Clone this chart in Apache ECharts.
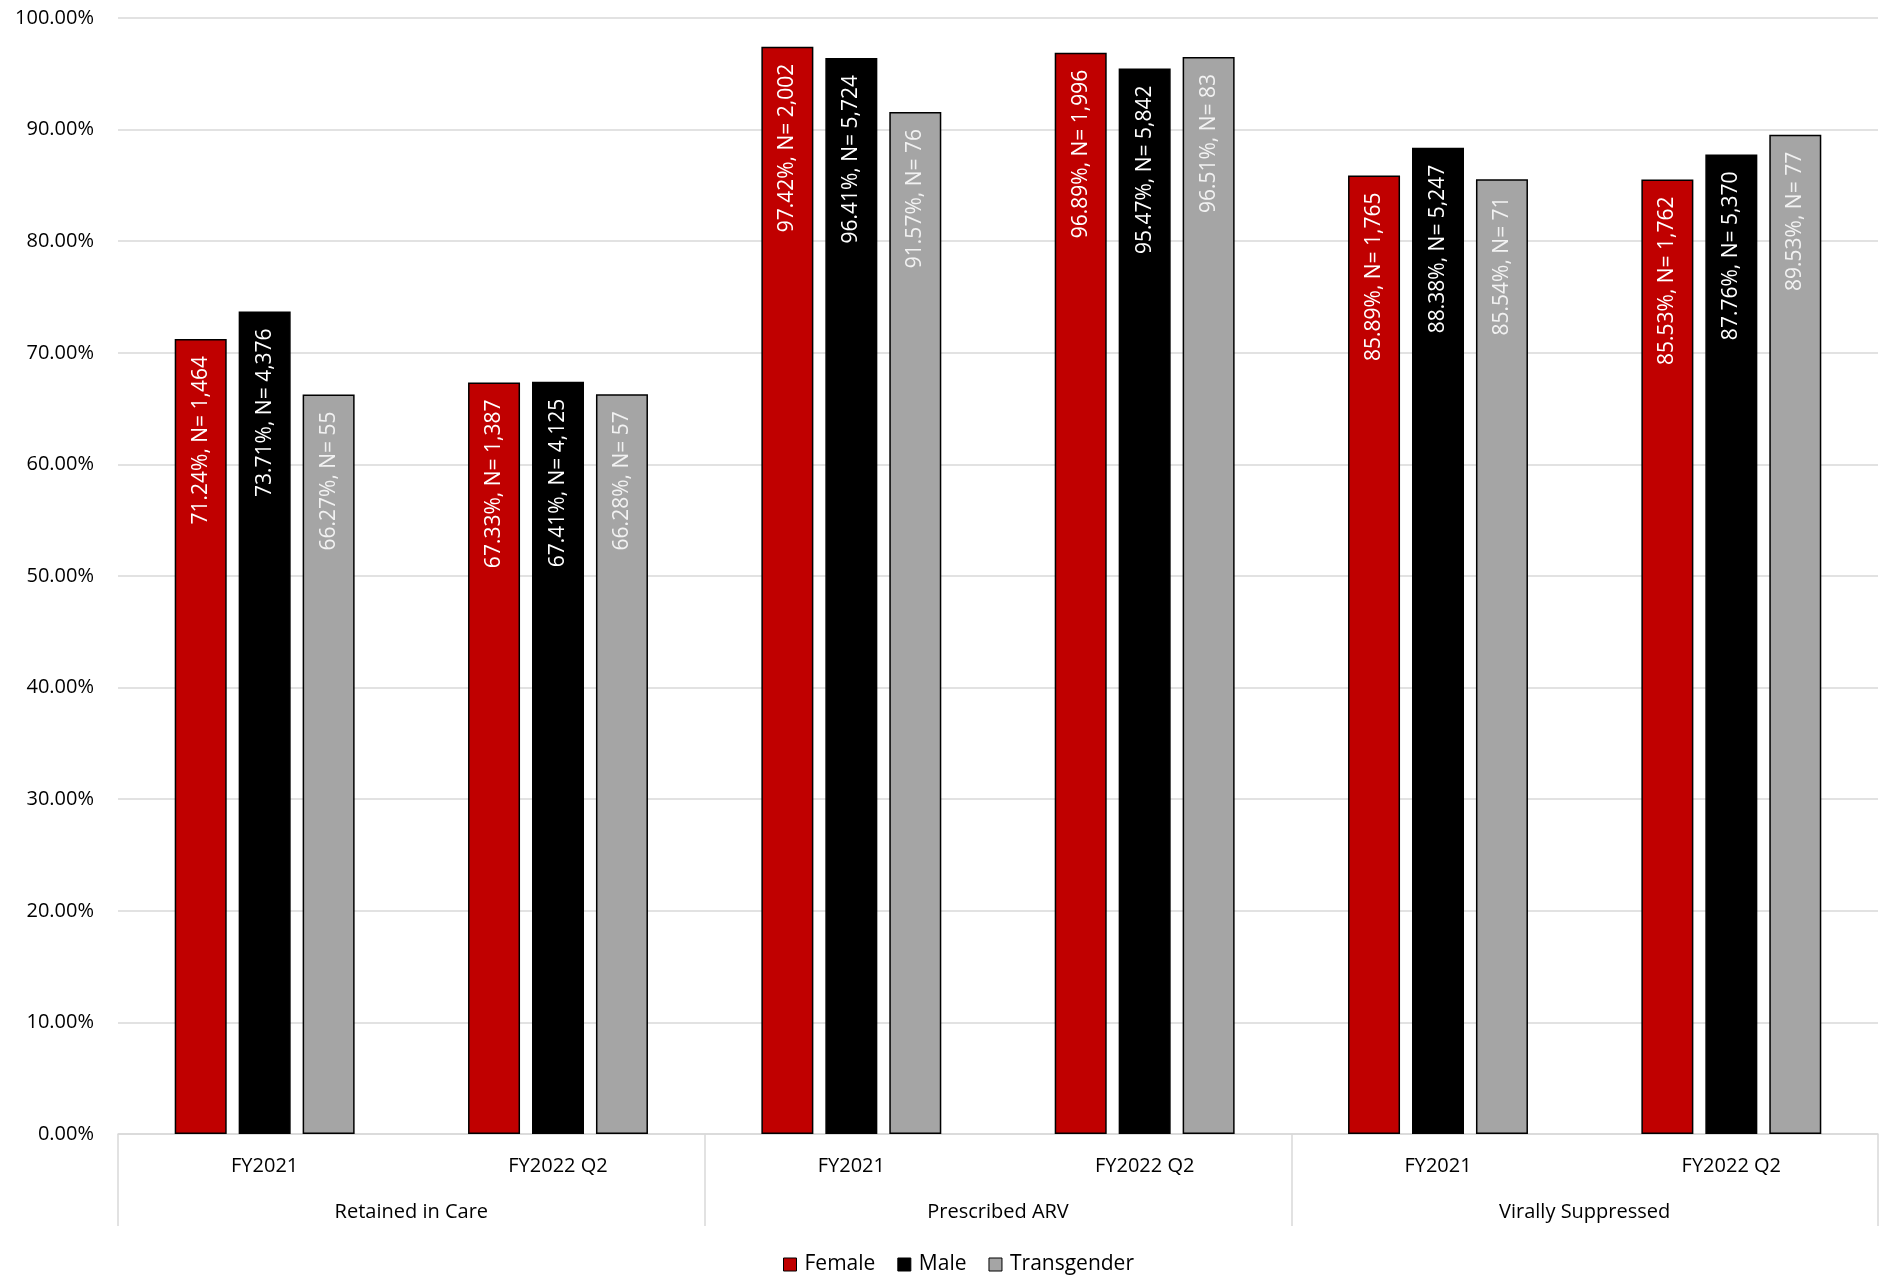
<!DOCTYPE html>
<html>
<head>
<meta charset="utf-8">
<script src="https://cdn.jsdelivr.net/npm/echarts@6/dist/echarts.min.js"></script>
<style>
html,body{margin:0;padding:0;background:#fff;}
#chart{width:1887px;height:1276px;}
</style>
</head>
<body>
<div id="chart"></div>
<script>
const groups = ['Retained in Care', 'Prescribed ARV', 'Virally Suppressed'];
const periods = ['FY2021', 'FY2022 Q2', 'FY2021', 'FY2022 Q2', 'FY2021', 'FY2022 Q2'];
const femalePct = [71.24, 67.33, 97.42, 96.89, 85.89, 85.53];
const femaleN = [1464, 1387, 2002, 1996, 1765, 1762];
const malePct = [73.71, 67.41, 96.41, 95.47, 88.38, 87.76];
const maleN = [4376, 4125, 5724, 5842, 5247, 5370];
const transPct = [66.27, 66.28, 91.57, 96.51, 85.54, 89.53];
const transN = [55, 57, 76, 83, 71, 77];
const yTicks = { min: 0, max: 100, interval: 10 };

const FONT = '"Open Sans", "Noto Sans", sans-serif';

function makeSeries(name, pct, ns, color, labelColor) {
  return {
    name: name,
    type: 'bar',
    xAxisIndex: 0,
    data: pct,
    barWidth: 52,
    barGap: '23%',
    itemStyle: { color: color, borderColor: '#000000', borderWidth: 1.5 },
    label: {
      show: true,
      position: 'insideTop',
      rotate: 90,
      align: 'right',
      verticalAlign: 'middle',
      distance: 17,
      color: labelColor,
      fontFamily: FONT,
      fontSize: 21,
      formatter: p => p.value.toFixed(2) + '%, N= ' + ns[p.dataIndex].toLocaleString('en-US')
    }
  };
}

const chart = echarts.init(document.getElementById('chart'), null, { renderer: 'canvas' });
chart.setOption({
  animation: false,
  backgroundColor: '#ffffff',
  textStyle: { fontFamily: FONT },
  grid: { left: 118, right: 9, top: 18, bottom: 142, containLabel: false },
  legend: {
    top: 1249,
    left: 778,
    itemWidth: 13,
    itemHeight: 13,
    itemGap: 22,
    icon: 'rect',
    textStyle: { fontFamily: FONT, fontSize: 21, color: '#000', padding: [0, 0, 0, 3] },
    data: [
      { name: 'Female', itemStyle: { color: '#C00000', borderColor: '#000', borderWidth: 1 } },
      { name: 'Male', itemStyle: { color: '#000000', borderColor: '#000', borderWidth: 1 } },
      { name: 'Transgender', itemStyle: { color: '#A5A5A5', borderColor: '#000', borderWidth: 1 } }
    ]
  },
  xAxis: [
    {
      type: 'category',
      data: periods,
      position: 'bottom',
      axisLine: { show: true, lineStyle: { color: '#D9D9D9', width: 1.5 } },
      axisTick: { show: false },
      axisLabel: { interval: 0, margin: 22, color: '#000', fontFamily: FONT, fontSize: 20 }
    },
    {
      type: 'category',
      data: groups,
      position: 'bottom',
      gridIndex: 0,
      axisLine: { show: false },
      axisTick: { show: true, length: 92, interval: 0, lineStyle: { color: '#D9D9D9', width: 1.5 } },
      axisLabel: { interval: 0, margin: 68, color: '#000', fontFamily: FONT, fontSize: 20 },
      boundaryGap: true
    }
  ],
  yAxis: {
    type: 'value',
    min: yTicks.min,
    max: yTicks.max,
    interval: yTicks.interval,
    axisLine: { show: false },
    axisTick: { show: false },
    splitLine: { show: true, lineStyle: { color: '#D9D9D9', width: 1.5 } },
    axisLabel: {
      margin: 24,
      color: '#000',
      fontFamily: FONT,
      fontSize: 20,
      formatter: v => v.toFixed(2) + '%'
    }
  },
  series: [
    makeSeries('Female', femalePct, femaleN, '#C00000', '#FFFFFF'),
    makeSeries('Male', malePct, maleN, '#000000', '#FFFFFF'),
    makeSeries('Transgender', transPct, transN, '#A5A5A5', '#F2F2F2')
  ]
});
</script>
</body>
</html>
